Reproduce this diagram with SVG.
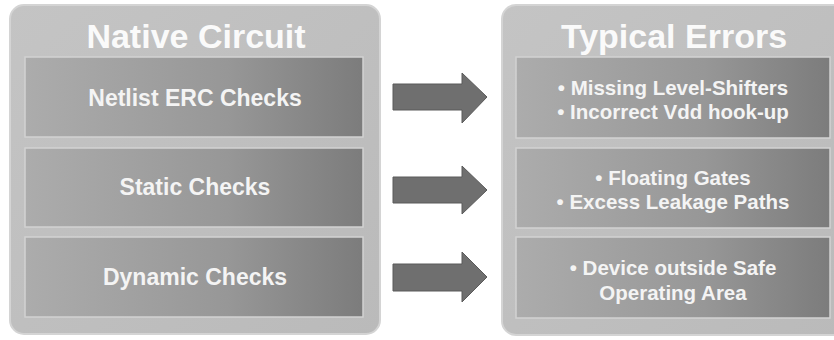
<svg xmlns="http://www.w3.org/2000/svg" width="834" height="340" viewBox="0 0 834 340">
<defs>
<linearGradient id="panelG" x1="0" y1="0" x2="1" y2="1">
<stop offset="0" stop-color="#c4c4c4"/>
<stop offset="1" stop-color="#bababa"/>
</linearGradient>
<linearGradient id="boxG" x1="0" y1="0" x2="1" y2="0">
<stop offset="0" stop-color="#acacac"/>
<stop offset="0.6" stop-color="#979797"/>
<stop offset="1" stop-color="#7c7c7c"/>
</linearGradient>
</defs>
<style>
.panel{fill:url(#panelG);stroke:#d4d4d4;stroke-width:2}
.box{fill:url(#boxG);stroke:#d2d2d2;stroke-width:1.5}
.title{font-family:"Liberation Sans",Arial,sans-serif;font-weight:bold;font-size:34px;fill:#fafafa;text-anchor:middle}
.lbl{font-family:"Liberation Sans",Arial,sans-serif;font-weight:bold;font-size:23px;fill:#f4f4f4;text-anchor:middle}
.err{font-family:"Liberation Sans",Arial,sans-serif;font-weight:bold;font-size:20.5px;fill:#f4f4f4;text-anchor:middle}
.arrow{fill:#6f6f6f;stroke:#5a5a5a;stroke-width:1}
</style>
<rect width="834" height="340" fill="#ffffff"/>
<g id="native-circuit">
<rect class="panel" x="10" y="5" width="370" height="329" rx="14"/>
<text class="title" x="196" y="48">Native Circuit</text>
</g>
<g id="netlist-erc">
<rect class="box" x="25" y="57" width="338" height="80"/>
<text class="lbl" x="195" y="106">Netlist ERC Checks</text>
</g>
<g id="static-checks">
<rect class="box" x="25" y="148" width="338" height="79"/>
<text class="lbl" x="195" y="195">Static Checks</text>
</g>
<g id="dynamic-checks">
<rect class="box" x="25" y="237" width="338" height="80"/>
<text class="lbl" x="195" y="285">Dynamic Checks</text>
</g>
<g id="typical-errors">
<rect class="panel" x="502" y="5" width="345" height="330" rx="14"/>
<text class="title" x="674" y="48">Typical Errors</text>
</g>
<g id="errors-1">
<rect class="box" x="516" y="57" width="314" height="81"/>
<text class="err" x="673" y="95">• Missing Level-Shifters</text>
<text class="err" x="673" y="119">• Incorrect Vdd hook-up</text>
</g>
<g id="errors-2">
<rect class="box" x="516" y="148" width="314" height="80"/>
<text class="err" x="673" y="185">• Floating Gates</text>
<text class="err" x="673" y="209">• Excess Leakage Paths</text>
</g>
<g id="errors-3">
<rect class="box" x="516" y="237" width="314" height="81"/>
<text class="err" x="673" y="275">• Device outside Safe</text>
<text class="err" x="673" y="300">Operating Area</text>
</g>
<g id="connectors">
<path class="arrow" d="M393 84 H462 V73 L487 97 L462 123 V110 H393 Z"/>
<path class="arrow" d="M393 177 H462 V166 L487 190 L462 214 V203 H393 Z"/>
<path class="arrow" d="M393 264 H462 V252 L487 277 L462 302 V291 H393 Z"/>
</g>
</svg>
